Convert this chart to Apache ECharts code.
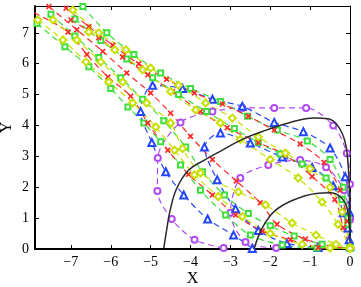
<!DOCTYPE html>
<html>
<head>
<meta charset="utf-8">
<script src="https://cdn.jsdelivr.net/npm/echarts@6/dist/echarts.min.js"></script>
<style>
  html, body { margin: 0; padding: 0; background: #fff; }
  #main { width: 361px; height: 287px; }
</style>
</head>
<body>
<div id="main"></div>
<script>
// 坐标刻度
var xTicks = [-7, -6, -5, -4, -3, -2, -1, 0];
var yTicks = [0, 1, 2, 3, 4, 5, 6, 7];

// 黑色实线
var blackOuter = [[-4.67,0.03],[-4.6,0.6],[-4.52,1.2],[-4.35,1.95],[-4.05,2.55],[-3.65,2.88],[-3.2,3.2],[-2.7,3.55],[-2.1,3.85],[-1.5,4.1],[-0.9,4.24],[-0.55,4.22],[-0.3,3.98],[-0.12,3.45],[-0.04,2.6],[-0.01,1.6],[0,0.5]];
var blackInner = [[-2.4,0.02],[-2.3,0.4],[-2.15,0.8],[-1.9,1.22],[-1.45,1.57],[-0.85,1.8],[-0.5,1.82],[-0.25,1.7],[-0.08,1.35],[-0.02,0.8],[0,0.2]];

// 紫色 圆圈
var magOuter = [[-3.17,0.03],[-3.9,0.3],[-4.47,0.97],[-4.83,1.88],[-4.82,2.95],[-4.25,4.1],[-3.45,4.45],[-2.7,4.57],[-1.9,4.57],[-1.1,4.57],[-0.42,4.0],[-0.08,3.1],[0,2.1],[0,0.95]];
var magInner = [[-1.85,0.03],[-2.62,0.23],[-3.0,1.17],[-2.75,2.3],[-2.05,2.72],[-1.25,2.88],[-0.6,2.65],[-0.15,1.9],[0,1.0]];

// 蓝色 三角
var blueOuter = [[-2.45,0.02],[-2.92,0.45],[-3.57,0.97],[-4.17,1.75],[-4.62,2.5],[-4.97,3.45],[-5.25,4.45],[-4.95,5.3],[-4.2,5.2],[-3.45,4.85],[-2.7,4.62],[-1.9,4.1],[-1.17,3.8],[-0.5,3.27],[-0.12,2.34],[-0.02,1.2],[0,0.1]];
var blueInner = [[-0.02,0.3],[-0.05,0.68],[-0.17,1.17],[-0.42,2.05],[-0.95,2.64],[-1.7,2.98],[-2.5,3.43],[-3.25,3.76],[-3.65,3.3],[-3.33,2.24],[-2.87,1.3],[-2.3,0.6],[-1.58,0.18],[-0.8,0.05]];

// 绿色 方块
var greenUO = [[-6.7,7.85],[-6.1,7.0],[-5.42,6.3],[-4.75,5.7],[-4.0,5.2],[-3.25,4.78],[-2.57,4.3],[-1.82,3.85],[-1.07,3.5],[-0.5,2.9],[-0.17,2.0],[-0.05,1.0],[0,0.05]];
var greenUI = [[-6.9,7.45],[-6.25,6.75],[-5.6,6.15],[-4.95,5.55],[-4.3,5.0],[-3.6,4.45],[-2.9,3.9],[-2.3,3.45],[-1.75,3.08],[-1.2,2.75],[-0.6,2.3],[-0.2,1.6],[-0.05,0.8],[0,0.05]];
var greenLO = [[-7.85,7.3],[-7.15,6.55],[-6.55,5.9],[-6.0,5.2],[-5.57,4.6],[-5.17,4.08],[-4.75,3.47],[-4.25,2.72],[-3.75,1.9],[-3.12,1.1],[-2.5,0.45],[-1.7,0.13],[-0.83,0.03],[0,0.02]];
var greenLI = [[-7.5,7.6],[-6.9,6.9],[-6.3,6.2],[-5.75,5.55],[-5.2,4.85],[-4.67,4.15],[-4.12,3.3],[-3.7,2.5],[-3.15,1.75],[-2.55,1.15],[-2.0,0.75],[-1.4,0.42],[-0.7,0.15],[0,0.02]];

// 红色 叉
var redUO = [[-7.12,7.8],[-6.55,7.2],[-5.95,6.6],[-5.3,6.0],[-4.6,5.5],[-3.9,5.05],[-3.2,4.7],[-2.55,4.3],[-1.9,3.85],[-1.25,3.4],[-0.65,2.8],[-0.25,1.9],[-0.07,0.9],[0,0.05]];
var redUI = [[-7.0,7.42],[-6.3,6.84],[-5.7,6.22],[-5.07,5.64],[-4.45,5.1],[-3.75,4.45],[-3.08,3.93],[-2.3,3.45],[-1.63,3.05],[-0.95,2.35],[-0.38,1.6],[-0.17,0.7],[0,0.05]];
var redLO = [[-7.92,7.65],[-7.07,7.03],[-6.6,6.3],[-6.07,5.57],[-5.5,4.95],[-5.07,4.08],[-4.57,3.2],[-4.05,2.42],[-3.45,1.75],[-2.87,1.1],[-2.2,0.58],[-1.5,0.3],[-0.8,0.05],[0,0.02]];
var redLI = [[-7.55,7.85],[-6.85,7.1],[-6.2,6.4],[-5.6,5.7],[-5.0,5.05],[-4.5,4.4],[-4.0,3.65],[-3.45,2.9],[-2.85,2.2],[-2.25,1.5],[-1.83,0.8],[-1.12,0.32],[-0.45,0.08],[0,0.02]];

// 黄色 菱形
var yellowUO = [[-6.95,7.74],[-6.3,7.0],[-5.62,6.45],[-5.0,5.86],[-4.3,5.3],[-3.62,4.73],[-2.95,4.24],[-2.3,3.63],[-1.62,3.11],[-1.0,2.6],[-0.5,2.0],[-0.2,1.2],[0,0.05]];
var yellowUI = [[-6.55,7.03],[-5.9,6.45],[-5.2,5.8],[-4.5,5.1],[-3.87,4.5],[-3.25,4.08],[-2.75,3.55],[-2.0,2.9],[-1.3,2.3],[-0.7,1.52],[-0.3,0.8],[0,0.05]];
var yellowLO = [[-7.83,7.42],[-7.2,6.77],[-6.62,6.06],[-6.05,5.41],[-5.45,4.73],[-4.87,3.95],[-4.4,3.2],[-3.9,2.4],[-3.3,1.7],[-2.7,1.05],[-2.0,0.5],[-1.2,0.15],[-0.5,0.03],[0,0.02]];
var yellowLI = [[-7.45,7.42],[-6.85,6.77],[-6.25,6.06],[-5.7,5.41],[-5.1,4.73],[-4.5,4.08],[-4.2,3.25],[-3.75,2.46],[-2.8,1.85],[-2.12,1.43],[-1.45,0.84],[-0.85,0.45],[-0.35,0.15],[0,0.02]];

var crossPath = 'path://M0,2L2,0L5,3L8,0L10,2L7,5L10,8L8,10L5,7L2,10L0,8L3,5Z';
var serif = 'Liberation Serif';

function dashed(data, color, symbol, size) {
    return {
        type: 'line',
        data: data,
        smooth: 0.3,
        symbol: symbol,
        symbolSize: size,
        showAllSymbol: true,
        lineStyle: { color: color, width: 1.2, type: [6, 4] },
        itemStyle: { color: color, borderWidth: 1.1 },
        z: 2
    };
}
function solid(data) {
    return {
        type: 'line',
        data: data,
        smooth: 0.4,
        showSymbol: false,
        lineStyle: { color: '#2a2a2a', width: 1.5 },
        z: 3
    };
}

var magenta = '#b04cf0', blue = '#2546ff', green = '#3de03d', red = '#ff2a2a', yellow = '#c8e000';

var series = [
    dashed(magOuter, magenta, 'emptyCircle', 6),
    dashed(magInner, magenta, 'emptyCircle', 6),
    dashed(blueOuter, blue, 'emptyTriangle', 7),
    dashed(blueInner, blue, 'emptyTriangle', 7),
    dashed(greenUO, green, 'emptyRect', 5),
    dashed(greenUI, green, 'emptyRect', 5),
    dashed(greenLO, green, 'emptyRect', 5),
    dashed(greenLI, green, 'emptyRect', 5),
    dashed(redUO, red, crossPath, 6),
    dashed(redUI, red, crossPath, 6),
    dashed(redLO, red, crossPath, 6),
    dashed(redLI, red, crossPath, 6),
    dashed(yellowUO, yellow, 'emptyDiamond', 7),
    dashed(yellowUI, yellow, 'emptyDiamond', 7),
    dashed(yellowLO, yellow, 'emptyDiamond', 7),
    dashed(yellowLI, yellow, 'emptyDiamond', 7),
    solid(blackOuter),
    solid(blackInner)
];

var chart = echarts.init(document.getElementById('main'));
var fmt = function (v) { return String(v).replace('-', '\u2212'); };
var option = {
    animation: false,
    grid: { left: 35, right: 11, top: 6, bottom: 38, outerBoundsMode: 'none' },
    xAxis: [{
        type: 'value', min: -7.9, max: 0, position: 'bottom',
        name: 'X', nameLocation: 'middle', nameGap: 22, nameMoveOverlap: false,
        nameTextStyle: { fontFamily: serif, fontSize: 16, color: '#000' },
        axisLine: { onZero: false, lineStyle: { color: '#000', width: 2 } },
        axisTick: { inside: true, length: 4, customValues: xTicks, lineStyle: { color: '#000' } },
        axisLabel: { customValues: xTicks, formatter: fmt, fontFamily: serif, fontSize: 14, color: '#000', margin: 6 },
        splitLine: { show: false }
    }, {
        type: 'value', min: -7.9, max: 0, position: 'top',
        axisLine: { onZero: false, lineStyle: { color: '#000', width: 1 } },
        axisTick: { inside: true, length: 4, customValues: xTicks, lineStyle: { color: '#000' } },
        axisLabel: { show: false },
        splitLine: { show: false }
    }],
    yAxis: [{
        type: 'value', min: 0, max: 7.87, position: 'left',
        name: 'Y', nameLocation: 'middle', nameGap: 20, nameRotate: 90, nameMoveOverlap: false,
        nameTextStyle: { fontFamily: serif, fontSize: 16, color: '#000' },
        axisLine: { show: true, onZero: false, lineStyle: { color: '#000', width: 2 } },
        axisTick: { show: true, inside: true, length: 4, customValues: yTicks, lineStyle: { color: '#000' } },
        axisLabel: { customValues: yTicks, fontFamily: serif, fontSize: 14, color: '#000', margin: 6 },
        splitLine: { show: false }
    }, {
        type: 'value', min: 0, max: 7.87, position: 'right',
        axisLine: { show: true, onZero: false, lineStyle: { color: '#000', width: 1 } },
        axisTick: { show: true, inside: true, length: 4, customValues: yTicks, lineStyle: { color: '#000' } },
        axisLabel: { show: false },
        splitLine: { show: false }
    }],
    series: series
};
chart.setOption(option);
</script>
</body>
</html>
